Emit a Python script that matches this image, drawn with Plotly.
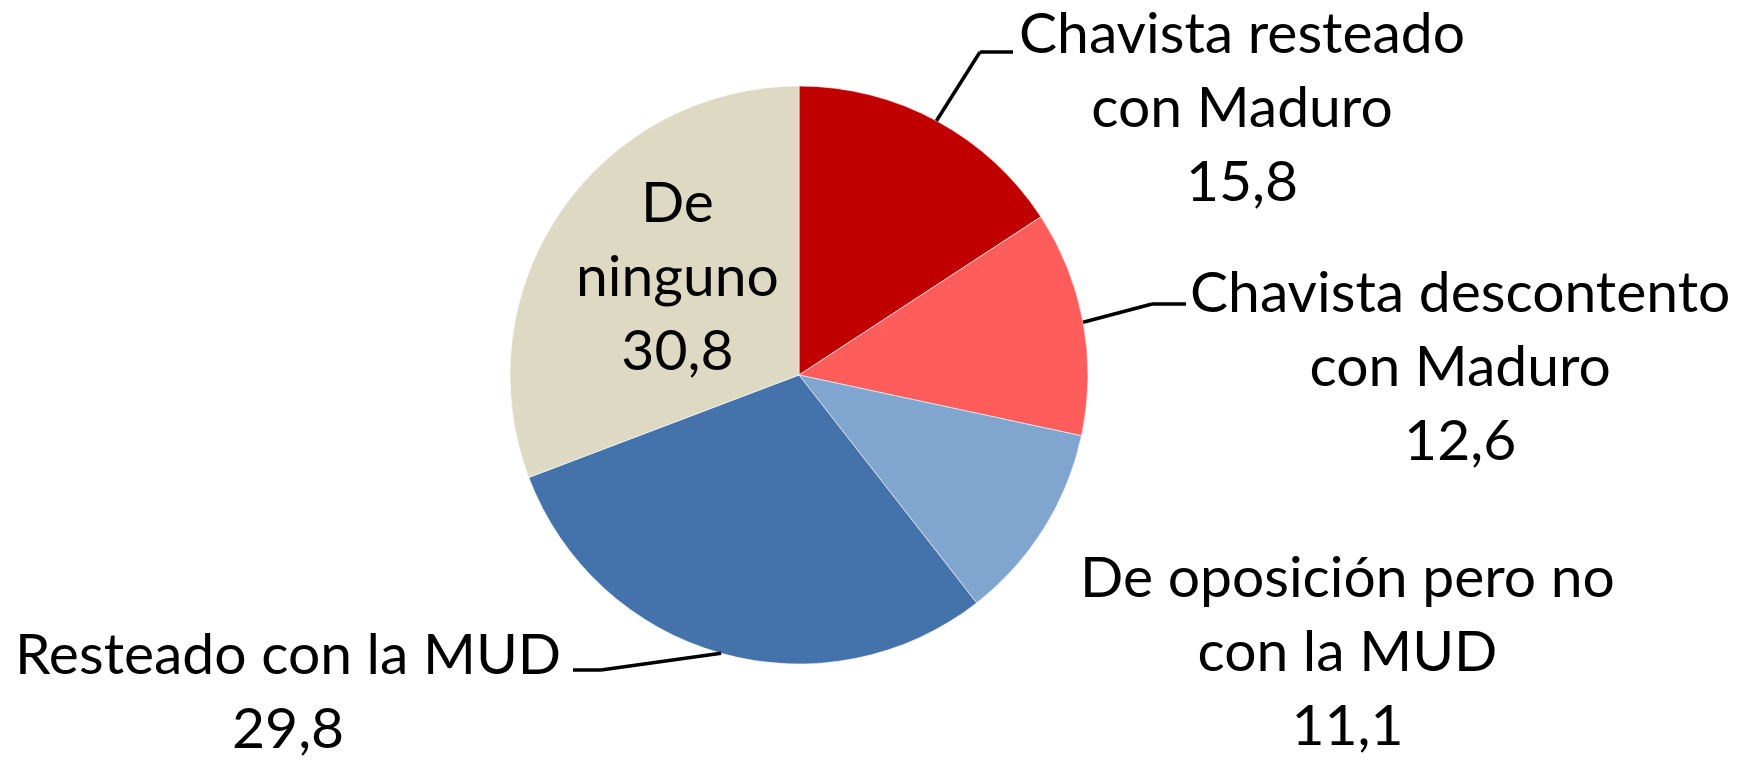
import math

import plotly.graph_objects as go

W, H = 1746, 760

LABELS = ["Chavista resteado con Maduro", "Chavista descontento con Maduro",
          "De oposición pero no con la MUD", "Resteado con la MUD", "De ninguno"]
LABEL_LINES = [["Chavista resteado", "con Maduro"],
               ["Chavista descontento", "con Maduro"],
               ["De oposición pero no", "con la MUD"],
               ["Resteado con la MUD"],
               ["De", "ninguno"]]
VALUES = [15.8, 12.6, 11.1, 29.8, 30.8]
COLORS = ["#C00000", "#FF5C5C", "#80A5CF", "#4472AB", "#DDD9C3"]

FONT = "Lato, Carlito, Calibri, sans-serif"
CX, CY, R = 799, 375, 289
OFF = 8  # page body margin


def px(x):
    return (x - OFF) / W


def py(y):
    return 1 - (y - OFF) / H


fig = go.Figure(go.Pie(
    labels=LABELS, values=VALUES, sort=False, direction="clockwise", rotation=0,
    marker=dict(colors=COLORS, line=dict(color="white", width=0.6)),
    textinfo="none", hoverinfo="label+value", showlegend=False,
    domain=dict(x=[px(CX - R), px(CX + R)], y=[py(CY + R), py(CY - R)]),
))

# label block centres (px) and leader elbows
label_pos = [(1242, 105), (1460, 364), (1347, 649), (288, 689), (677, 274)]
leaders = {0: [(980, 52), (1013, 52)], 1: [(1152, 304), (1186, 304)],
           3: [(601, 670), (573, 670)]}

total = sum(VALUES)
cum = 0
for i, v in enumerate(VALUES):
    mid = (cum + v / 2) / total * 2 * math.pi
    cum += v
    txt = "<br>".join(LABEL_LINES[i] + [f"{v:.1f}".replace(".", ",")])
    x, y = label_pos[i]
    fig.add_annotation(text=txt, x=px(x), y=py(y), xref="paper", yref="paper",
                       xanchor="center", yanchor="middle", showarrow=False,
                       align="center", font=dict(size=57, color="black", family=FONT))
    if i in leaders:
        pts = [(CX + R * math.sin(mid), CY - R * math.cos(mid))] + leaders[i]
        for (x0, y0), (x1, y1) in zip(pts[:-1], pts[1:]):
            fig.add_shape(type="line", xref="paper", yref="paper",
                          x0=px(x0), y0=py(y0), x1=px(x1), y1=py(y1),
                          line=dict(color="black", width=3.5))

fig.update_layout(
    width=W, height=H,
    margin=dict(l=0, r=0, t=0, b=0),
    paper_bgcolor="white", plot_bgcolor="white",
    font=dict(family=FONT),
)

fig.write_html("out.html")
